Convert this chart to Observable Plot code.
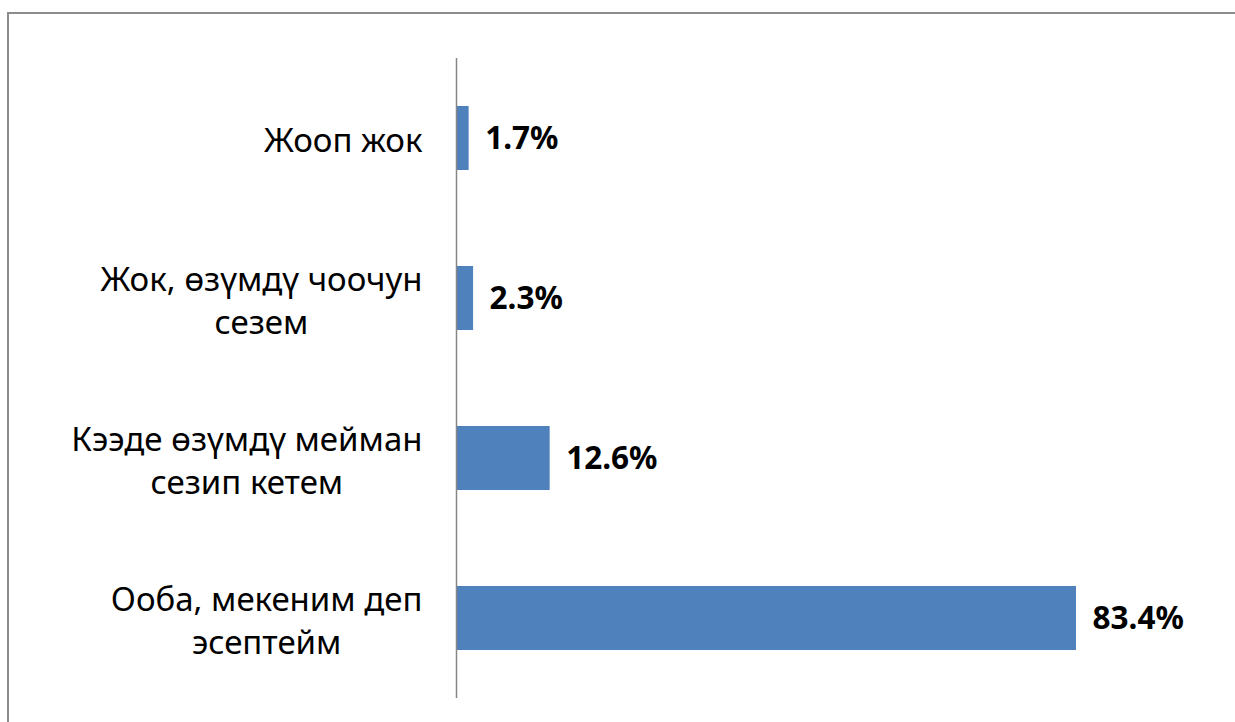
<!DOCTYPE html>
<html>
<head>
<meta charset="utf-8">
<script src="https://cdn.jsdelivr.net/npm/d3@7"></script>
<script src="https://cdn.jsdelivr.net/npm/@observablehq/plot@0.6"></script>
<style>
  html, body { margin: 0; padding: 0; background: #fff; overflow: hidden; width: 1235px; height: 722px; }
  #frame { position: absolute; left: 7px; top: 12px; width: 1300px; height: 800px; border: 2px solid #8c8c8c; box-sizing: border-box; }
  #chart { position: absolute; left: 0; top: 0; }
</style>
</head>
<body>
<div id="frame"></div>
<div id="chart"></div>
<script>
const categories = [
  "Жооп жок",
  "Жок, өзүмдү чоочун сезем",
  "Кээде өзүмдү мейман сезип кетем",
  "Ооба, мекеним деп эсептейм"
];
const labelLines = [
  "Жооп жок",
  "Жок, өзүмдү чоочун\nсезем",
  "Кээде өзүмдү мейман\nсезип кетем",
  "Ооба, мекеним деп\nэсептейм"
];
const values = [1.7, 2.3, 12.6, 83.4];

const data = categories.map((c, i) => ({category: c, label: labelLines[i], value: values[i]}));

const FONT = "Noto Sans";
const FS = 33;
const VFS = 31.5;
const ctx = document.createElement("canvas").getContext("2d");
ctx.font = `${FS}px "${FONT}"`;
const blockWidth = s => Math.max(...s.split("\n").map(l => ctx.measureText(l).width));

const labelMarks = data.map(d => Plot.text([d], {
  y: "category",
  text: "label",
  frameAnchor: "left",
  textAnchor: "middle",
  lineAnchor: "middle",
  lineHeight: 1.3,
  dx: -34 - blockWidth(d.label) / 2,
  fontSize: FS,
  fill: "#000"
}));

const chart = Plot.plot({
  width: 1235,
  height: 722,
  marginLeft: 456,
  marginRight: 35.6,
  marginTop: 58,
  marginBottom: 24,
  style: {fontFamily: FONT, background: "transparent"},
  x: {domain: [0, 100], axis: null},
  y: {domain: categories, paddingInner: 0.6, paddingOuter: 0.3, axis: null},
  marks: [
    Plot.barX(data, {x: "value", y: "category", fill: "#4F81BD"}),
    Plot.ruleX([0], {stroke: "#868686", strokeWidth: 1.5}),
    Plot.text(data, {
      x: "value", y: "category",
      text: d => d.value.toFixed(1) + "%",
      textAnchor: "start", dx: 16,
      fontSize: VFS, fontWeight: "bold", fill: "#000"
    }),
    ...labelMarks
  ]
});
document.getElementById("chart").appendChild(chart);
</script>
</body>
</html>
